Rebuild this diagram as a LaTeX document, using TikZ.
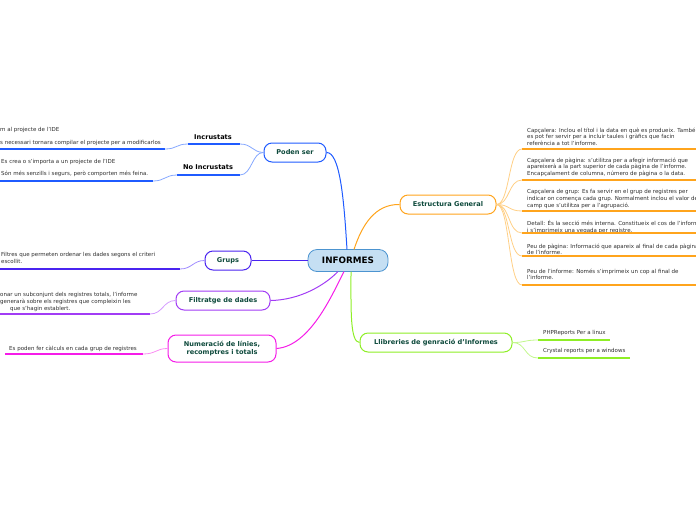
\documentclass[tikz,border=0pt]{standalone}
\usepackage{fontspec}
\setmainfont{DejaVu Sans}
\definecolor{cblue}{HTML}{1F5BFF}
\definecolor{cblueL}{HTML}{86A8FF}
\definecolor{cind}{HTML}{4A24F0}
\definecolor{cindL}{HTML}{A08CFF}
\definecolor{cpur}{HTML}{A23CF5}
\definecolor{cpurL}{HTML}{D49CFF}
\definecolor{cmag}{HTML}{F51CE8}
\definecolor{cmagL}{HTML}{FA8CF2}
\definecolor{cgrn}{HTML}{8EEE26}
\definecolor{cgrnL}{HTML}{C2F78C}
\definecolor{corg}{HTML}{FFA41C}
\definecolor{corgL}{HTML}{FFCF85}
\definecolor{txt}{HTML}{0E4A3C}
\definecolor{leaftxt}{HTML}{2E2E2E}
\definecolor{infofill}{HTML}{C5DFF3}
\definecolor{infodraw}{HTML}{4C94D0}
\tikzset{
  topic/.style={draw=#1, rounded corners=8pt, line width=1pt, fill=white,
    font=\fontsize{6.6}{8}\selectfont\bfseries, text=txt, align=center, inner sep=0pt},
  sub/.style={font=\fontsize{6.6}{8}\selectfont\bfseries, text=black, inner sep=0pt},
  leaf/.style={font=\fontsize{5.5}{6.7}\selectfont, text=leaftxt, inner sep=0pt, anchor=north west, align=left},
  uline/.style={draw=#1, line width=1.5pt},
  conn/.style={draw=#1, line width=0.8pt},
}
\begin{document}
\begin{tikzpicture}[x=1pt,y=-1pt]
\useasboundingbox (0,0) rectangle (696,520);

% central node
\node[draw=infodraw, fill=infofill, rounded corners=9pt, line width=0.8pt, minimum width=80pt, minimum height=22pt,
  font=\fontsize{8.8}{10}\selectfont\bfseries, inner sep=0pt] (info) at (348,260.5) {INFORMES};

% main topics
\node[topic=cblue, minimum width=62pt, minimum height=19pt] (ps) at (295,152.5) {Poden ser};
\node[topic=corg, minimum width=96pt, minimum height=19pt] (est) at (448,204.5) {Estructura General};
\node[topic=cind, minimum width=46pt, minimum height=19pt] (grups) at (228,260.5) {Grups};
\node[topic=cpur, minimum width=94pt, minimum height=19pt] (filt) at (223,300.5) {Filtratge de dades};
\node[topic=cmag, minimum width=108pt, minimum height=27pt] (num) at (222,348.5) {Numeració de línies,\\recomptres i totals};
\node[topic=cgrn, minimum width=152pt, minimum height=19pt] (lib) at (436,342.5) {Llibreries de genració d'Informes};

% connections to centre
\draw[conn=cblue, line width=1pt] (ps.east) .. controls (340,152) and (344,200) .. (347,249.5);
\draw[conn=corg, line width=1pt] (est.west) .. controls (375,204) and (362,225) .. (354,249.5);
\draw[conn=cind, line width=1pt] (grups.east) -- (info.west);
\draw[conn=cpur, line width=1pt] (filt.east) .. controls (300,300) and (325,285) .. (338,271.5);
\draw[conn=cmag, line width=1pt] (num.east) .. controls (310,346) and (332,295) .. (344,271.5);
\draw[conn=cgrn, line width=1pt] (351,271.5) .. controls (351,310) and (350,342) .. (lib.west);

% Poden ser subtopics
\node[sub] (inc) at (213,137) {Incrustats};
\coordinate (incA) at (188,144); \coordinate (incB) at (240,144);
\draw[uline=cblue] (incA) -- (incB);
\draw[conn=cblueL] (incB) .. controls (252,144) and (252,152) .. (ps.west);
\node[sub] (noinc) at (208,167.5) {No Incrustats};
\coordinate (noA) at (177,175); \coordinate (noB) at (240,175);
\draw[uline=cblue] (noA) -- (noB);
\draw[conn=cblueL] (noB) .. controls (252,175) and (252,152) .. (ps.west);

% left leaves
\node[leaf] (l1a) at (0,127.5) {m al projecte de l'IDE};
\node[leaf] (l1b) at (0,140.5) {s necessari tornara compilar el projecte per a modificarlos};
\coordinate (l1L) at (0,149); \coordinate (l1R) at (165,149);
\draw[uline=cblue] (l1L) -- (l1R);
\draw[conn=cblueL] (l1R) .. controls (177,149) and (176,144) .. (incA);

\node[leaf] (l2a) at (1,159.5) {Es crea o s'importa a un projecte de l'IDE};
\node[leaf] (l2b) at (1,170.5) {Són més senzills i segurs, però comporten més feina.};
\coordinate (l2L) at (0,181); \coordinate (l2R) at (153,181);
\draw[uline=cblue] (l2L) -- (l2R);
\draw[conn=cblueL] (l2R) .. controls (165,181) and (165,175) .. (noA);

\node[leaf] (l3) at (1,252.5) {Filtres que permeten ordenar les dades segons el criteri\\escollit.};
\coordinate (l3L) at (0,269); \coordinate (l3R) at (180,269);
\draw[uline=cind] (l3L) -- (l3R);
\draw[conn=cindL] (l3R) .. controls (192,269) and (193,260.5) .. (grups.west);

\node[leaf] (l4a) at (0,292.5) {onar un subconjunt dels registres totals, l'informe\\generarà sobre els registres que compleixin les};
\node[leaf] (l4b) at (10,305.9) {que s'hagin establert.};
\coordinate (l4L) at (0,314); \coordinate (l4R) at (150,314);
\draw[uline=cpur] (l4L) -- (l4R);
\draw[conn=cpurL] (l4R) .. controls (163,314) and (163,300.5) .. (filt.west);

\node[leaf] (l5) at (9,345.5) {Es poden fer càlculs en cada grup de registres};
\coordinate (l5L) at (5,354); \coordinate (l5R) at (143,354);
\draw[uline=cmag] (l5L) -- (l5R);
\draw[conn=cmagL] (l5R) .. controls (156,354) and (156,348.5) .. (num.west);

% right leaves (Estructura General)
\node[leaf] (r1) at (527,127.5) {Capçalera: Inclou el títol i la data en què es produeix. També\\es pot fer servir per a incluir taules i gràfics que facin\\referència a tot l'informe.};
\node[leaf] (r2) at (527,157.5) {Capçalera de pàgina: s'utilitza per a afegir informació que\\apareixerà a la part superior de cada pàgina de l'informe.\\Encapçalament de columna, número de pàgina o la data.};
\node[leaf] (r3) at (527,189.5) {Capçalera de grup: Es fa servir en el grup de registres per\\indicar on comença cada grup. Normalment inclou el valor de\\camp que s'utilitza per a l'agrupació.};
\node[leaf] (r4) at (527,220.5) {Detall: És la secció més interna. Constitueix el cos de l'informe\\i s'imprimeix una vegada per registre.};
\node[leaf] (r5) at (527,243.5) {Peu de pàgina: Informació que apareix al final de cada pàgina\\de l'informe.};
\node[leaf] (r6) at (527,268.5) {Peu de l'informe: Només s'imprimeix un cop al final de\\l'informe.};
\foreach \n/\y in {1/149,2/180,3/211,4/233,5/256,6/285}{
  \coordinate (rL\n) at (522,\y); \coordinate (rR\n) at (700,\y);
  \draw[uline=corg] (rL\n) -- (rR\n);
  \draw[conn=corgL] (est.east) .. controls (510,204.5) and (508,\y) .. (rL\n);
}

% Llibreries leaves
\node[leaf] (p1) at (543,330.5) {PHPReports Per a linux};
\coordinate (p1L) at (538,340); \coordinate (p1R) at (610,340);
\draw[uline=cgrn] (p1L) -- (p1R);
\draw[conn=cgrnL] (lib.east) .. controls (526,342.5) and (524,340) .. (p1L);
\node[leaf] (p2) at (543,348.5) {Crystal reports per a windows};
\coordinate (p2L) at (538,358); \coordinate (p2R) at (630,358);
\draw[uline=cgrn] (p2L) -- (p2R);
\draw[conn=cgrnL] (lib.east) .. controls (526,342.5) and (524,358) .. (p2L);
\end{tikzpicture}
\end{document}
